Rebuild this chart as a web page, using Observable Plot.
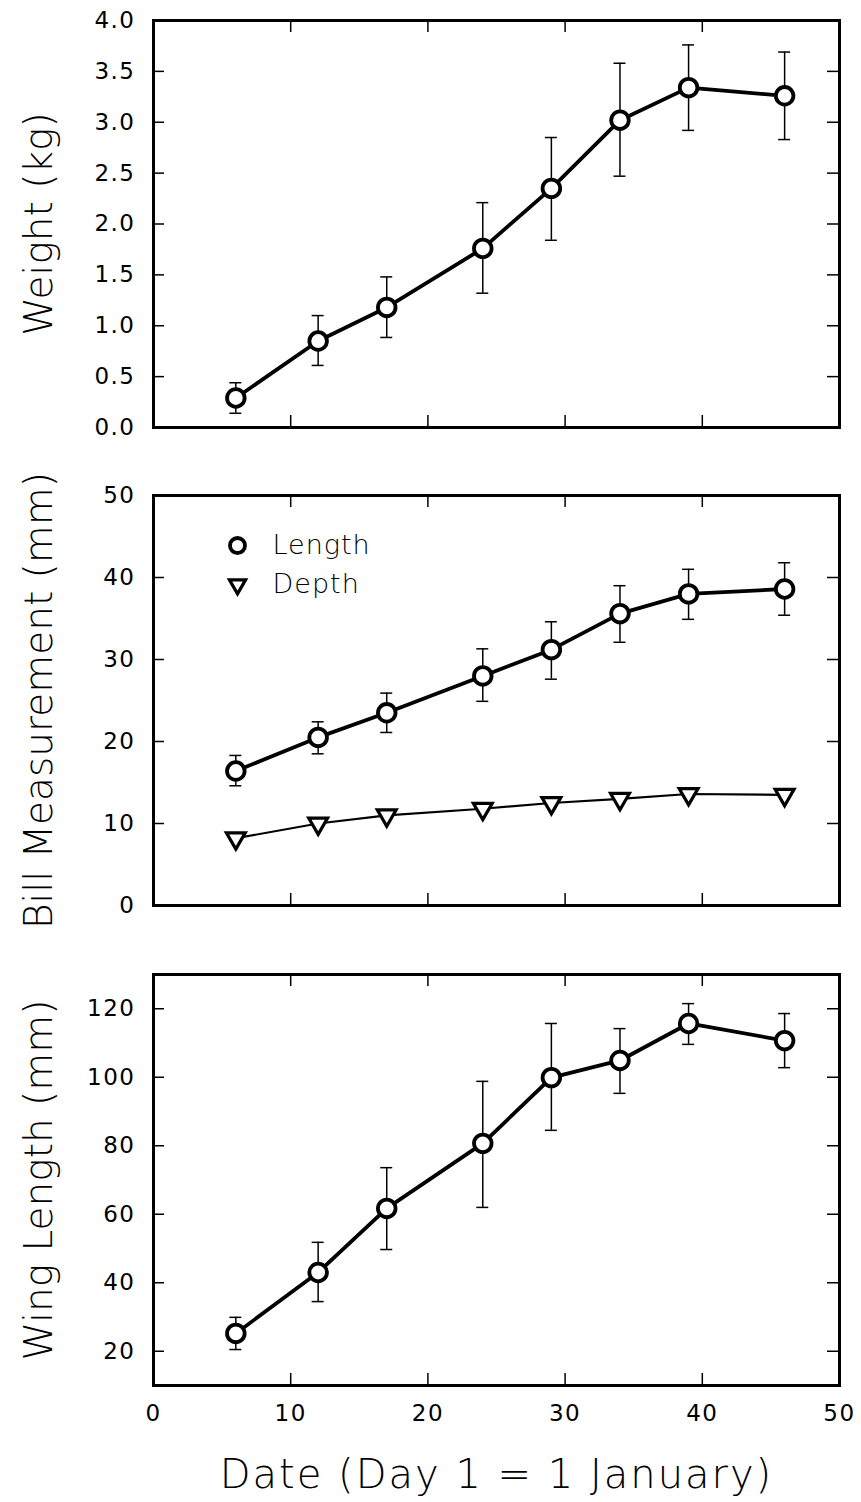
<!DOCTYPE html>
<html><head><meta charset="utf-8">
<script src="https://cdn.jsdelivr.net/npm/d3@7"></script>
<script src="https://cdn.jsdelivr.net/npm/@observablehq/plot@0.6"></script>
<style>
html,body{margin:0;padding:0;background:#fff;}
#chart{position:relative;width:861px;height:1502px;background:#fff;}
#chart svg{position:absolute;left:0;overflow:visible;}
</style></head><body><div id="chart"></div>
<script>
// ---- data ----
const days = [6, 12, 17, 24, 29, 34, 39, 46];
const weight   = [0.29, 0.85, 1.18, 1.76, 2.35, 3.02, 3.34, 3.26];
const weightHi = [0.44, 1.10, 1.48, 2.21, 2.85, 3.58, 3.76, 3.69];
const weightLo = [0.14, 0.61, 0.885, 1.32, 1.84, 2.47, 2.92, 2.83];
const billLength   = [16.4, 20.5, 23.5, 28.0, 31.2, 35.6, 38.0, 38.6];
const billLengthHi = [18.3, 22.4, 25.9, 31.3, 34.6, 39.0, 41.0, 41.8];
const billLengthLo = [14.6, 18.5, 21.1, 24.9, 27.6, 32.1, 34.9, 35.4];
const billDepth    = [8.2, 10.0, 11.0, 11.8, 12.5, 13.0, 13.6, 13.5];
const wing   = [25.2, 43.0, 61.7, 80.7, 99.9, 104.9, 115.7, 110.7];
const wingHi = [29.9, 51.8, 73.6, 98.8, 115.7, 114.2, 121.5, 118.6];
const wingLo = [20.5, 34.5, 49.7, 62.0, 84.5, 95.3, 109.6, 102.8];
const xTicks = [0, 10, 20, 30, 40, 50];
const weightTicks = [0, 0.5, 1, 1.5, 2, 2.5, 3, 3.5, 4];
const billTicks = [0, 10, 20, 30, 40, 50];
const wingTicks = [20, 40, 60, 80, 100, 120];
const legendLabels = ["Length", "Depth"];
const xTitle = "Date (Day 1 = 1 January)";

const rowsOf = (v, lo, hi) => days.map((d, i) => ({day: d, v: v[i], lo: lo ? lo[i] : null, hi: hi ? hi[i] : null}));

const W = 861, ML = 153, MR = 22;
const innerW = W - ML - MR;
const FONT = "DejaVu Sans";
const LW = 3.8;

const invTriangle = {
  draw(context, size) {
    const s3 = Math.sqrt(3);
    const y = -Math.sqrt(size / (s3 * 3));
    context.moveTo(0, -y * 2);
    context.lineTo(-s3 * y, y);
    context.lineTo(s3 * y, y);
    context.closePath();
  }
};

function errorMarks(rows) {
  return [
    Plot.ruleX(rows, {x: "day", y1: "lo", y2: "hi", strokeWidth: 1.5}),
    Plot.ruleY(rows, {y: "hi", x1: "day", x2: "day", insetLeft: -6, insetRight: -6, strokeWidth: 1.5}),
    Plot.ruleY(rows, {y: "lo", x1: "day", x2: "day", insetLeft: -6, insetRight: -6, strokeWidth: 1.5})
  ];
}
function circleSeries(rows) {
  return [
    ...errorMarks(rows),
    Plot.line(rows, {x: "day", y: "v", strokeWidth: LW}),
    Plot.dot(rows, {x: "day", y: "v", r: 8.8, fill: "white", stroke: "black", strokeWidth: LW})
  ];
}

function panel({yDomain, yTicks, yFormat, yLabel, top, marginTop, innerH, marginBottom, marks, xAxis}) {
  const height = marginTop + innerH + marginBottom;
  const chart = Plot.plot({
    width: W, height,
    marginLeft: ML, marginRight: MR, marginTop, marginBottom,
    style: {fontFamily: FONT, fontSize: "23px", background: "transparent", color: "black", overflow: "visible"},
    x: {domain: [0, 50], axis: null},
    y: {domain: yDomain, axis: null},
    marks: [
      // inner tick marks on all four sides
      Plot.tickY(yTicks, {y: d => d, insetRight: innerW - 11, strokeWidth: 1.5}),
      Plot.tickY(yTicks, {y: d => d, insetLeft: innerW - 12, strokeWidth: 1.5}),
      Plot.tickX(xTicks.slice(1, -1), {x: d => d, insetBottom: innerH - 12, strokeWidth: 1.5}),
      Plot.tickX(xTicks.slice(1, -1), {x: d => d, insetTop: innerH - 12, strokeWidth: 1.5}),
      Plot.axisY(yTicks, {anchor: "left", tickSize: 0, tickPadding: 18, tickFormat: yFormat, fontSize: 23, label: null}),
      ...(xAxis ? [Plot.axisX(xTicks, {anchor: "bottom", tickSize: 0, tickPadding: 19, fontSize: 23, label: null})] : []),
      Plot.text([yLabel], {text: d => d, frameAnchor: "left", dx: -114, rotate: -90, textAnchor: "middle", lineAnchor: "middle", fontSize: 39, fontWeight: 200, fontFamily: FONT}),
      ...marks,
      Plot.frame({strokeWidth: 3})
    ]
  });
  // typographic spacing, like the original plotter font
  const sel = d3.select(chart);
  sel.selectAll("[aria-label^='y-axis'] text, [aria-label^='x-axis'] text").attr("letter-spacing", 1.5);
  sel.selectAll("text").filter(function () { return this.textContent === xTitle; }).attr("letter-spacing", 2);
  sel.selectAll("text").filter(function () { return legendLabels.includes(this.textContent); }).attr("letter-spacing", 1);
  chart.style.top = top + "px";
  return chart;
}

const root = document.getElementById("chart");

root.appendChild(panel({
  yDomain: [0, 4], yTicks: weightTicks, yFormat: d3.format(".1f"), yLabel: "Weight (kg)",
  top: 0, marginTop: 20, innerH: 407, marginBottom: 20,
  marks: circleSeries(rowsOf(weight, weightLo, weightHi))
}));

const lengthRows = rowsOf(billLength, billLengthLo, billLengthHi);
const depthRows = rowsOf(billDepth);
root.appendChild(panel({
  yDomain: [0, 50], yTicks: billTicks, yFormat: d3.format("d"), yLabel: "Bill Measurement (mm)",
  top: 458, marginTop: 37, innerH: 410, marginBottom: 37,
  marks: [
    ...circleSeries(lengthRows),
    Plot.line(depthRows, {x: "day", y: "v", strokeWidth: 2.2}),
    Plot.dot(depthRows, {x: "day", y: "v", symbol: invTriangle, r: 7, fill: "white", stroke: "black", strokeWidth: 3.2}),
    // legend
    Plot.dot([legendLabels[0]], {frameAnchor: "top-left", dx: 84, dy: 50, r: 7.5, fill: "white", stroke: "black", strokeWidth: LW}),
    Plot.dot([legendLabels[1]], {frameAnchor: "top-left", dx: 84, dy: 89, symbol: invTriangle, r: 6, fill: "white", stroke: "black", strokeWidth: 3.2}),
    Plot.text([legendLabels[0]], {text: d => d, frameAnchor: "top-left", dx: 119, dy: 50, textAnchor: "start", lineAnchor: "middle", fontSize: 27, fontWeight: 200, fontFamily: FONT}),
    Plot.text([legendLabels[1]], {text: d => d, frameAnchor: "top-left", dx: 119, dy: 89, textAnchor: "start", lineAnchor: "middle", fontSize: 27, fontWeight: 200, fontFamily: FONT})
  ]
}));

root.appendChild(panel({
  yDomain: [10, 130], yTicks: wingTicks, yFormat: d3.format("d"), yLabel: "Wing Length (mm)",
  top: 954, marginTop: 20, innerH: 411, marginBottom: 117,
  xAxis: true,
  marks: [
    ...circleSeries(rowsOf(wing, wingLo, wingHi)),
    Plot.text([xTitle], {text: d => d, frameAnchor: "bottom", dy: 90, textAnchor: "middle", lineAnchor: "middle", fontSize: 40, fontWeight: 200, fontFamily: FONT})
  ]
}));
</script>
</body></html>
